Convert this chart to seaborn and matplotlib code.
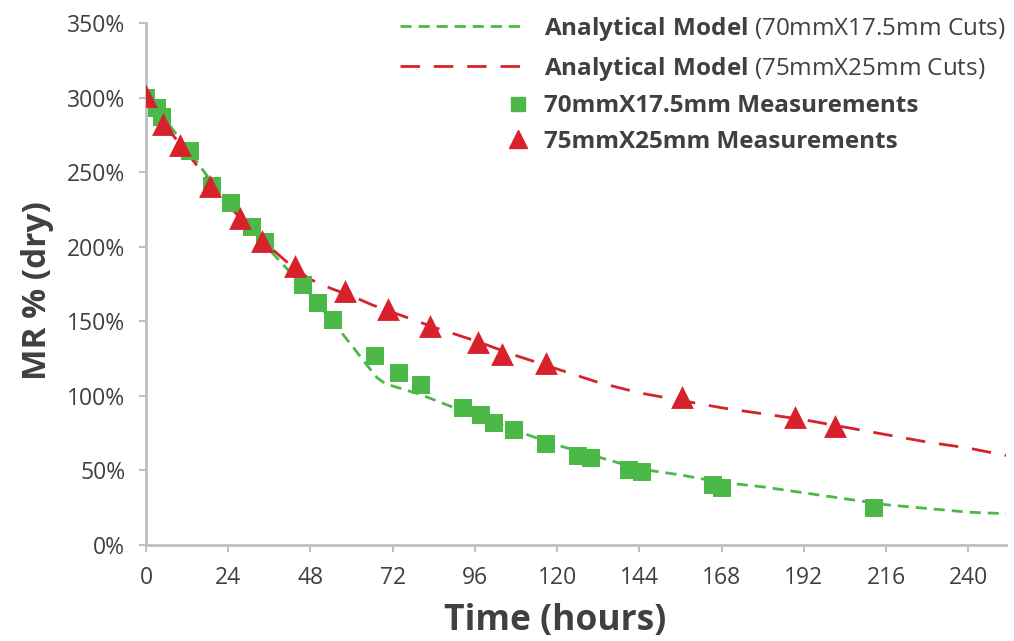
import numpy as np
import pandas as pd
import matplotlib
matplotlib.use("Agg")
import matplotlib.pyplot as plt
import seaborn as sns
from matplotlib.lines import Line2D
from matplotlib.legend_handler import HandlerLine2D
from matplotlib.ticker import FuncFormatter, MultipleLocator

# analytical model curves (hours, MR %)
green_model_t = [0, 6, 12, 18, 24, 30, 36, 42, 48, 54, 60, 64, 67.5, 70, 80, 90, 100,
                 110, 120, 132, 144, 156, 168, 180, 192, 204, 216, 228, 240, 251]
green_model = [300, 284, 266, 247, 231, 214, 198, 183, 168, 151, 134, 122, 112, 108, 101, 92, 84,
               75, 67, 59, 51, 47, 42, 39, 35, 31, 27, 24.5, 22, 21]

red_model_t = [0, 6, 12, 18, 24, 30, 36, 42, 48, 54, 60, 66, 72, 84, 96, 108, 120,
               132, 144, 156, 168, 180, 192, 204, 216, 228, 240, 251]
red_model = [301, 280, 263, 245, 228, 213, 200, 188, 178, 172, 167, 161, 156, 146, 137, 127, 118,
             109, 102, 97, 92, 88, 84, 79, 74, 69, 65, 60]

# measurements
green_meas_t = [0, 3.2, 4.7, 12.8, 19.2, 24.8, 31, 34.7, 45.8, 50.2, 54.6, 66.8, 73.8, 80.2,
                92.5, 97.7, 101.5, 107.3, 116.6, 126, 129.8, 140.9, 144.9, 165.6, 168, 212.6]
green_meas = [300, 293, 287, 264, 241, 229, 213, 203, 174, 162, 151, 127, 115, 107,
              92, 87, 82, 77, 68, 60, 58, 50, 49, 40, 38, 25]

red_meas_t = [0, 5, 10, 18.7, 27.5, 33.8, 43.4, 58, 70.6, 82.8, 96.8, 103.8, 116.6, 156.3, 189.3, 201]
red_meas = [301, 282, 268, 241, 219, 204, 187, 170, 158, 147, 136, 128, 122, 99, 86, 80]

labels = [r"$\mathbf{Analytical\ Model}$ (70mmX17.5mm Cuts)",
          r"$\mathbf{Analytical\ Model}$ (75mmX25mm Cuts)",
          "70mmX17.5mm Measurements",
          "75mmX25mm Measurements"]

GREEN = "#4cb848"
RED = "#d7222c"
TXT = "#404040"
AXC = "#bfbfbf"
G_DASH = (0, (4, 2.5))
R_DASH = (0, (7, 5))

sns.set_theme(style="ticks")
plt.rcParams['font.family'] = ['Open Sans', 'DejaVu Sans']
plt.rcParams['mathtext.fontset'] = 'custom'
plt.rcParams['mathtext.rm'] = 'Open Sans'
plt.rcParams['mathtext.bf'] = 'Open Sans:bold'


class RightMarker(HandlerLine2D):
    # single marker near the right end of the handle box
    def get_xdata(self, legend, xdescent, ydescent, width, height, fontsize):
        m = -xdescent + width - 0.25 * fontsize
        return np.array([m - 1, m + 1]), np.array([m])


fig = plt.figure(figsize=(10.14, 6.41), dpi=100)
ax = fig.add_axes([146 / 1014, 1 - 545 / 641, 860 / 1014, 522 / 641])

gm = pd.DataFrame({"t": green_model_t, "mr": green_model})
rm = pd.DataFrame({"t": red_model_t, "mr": red_model})
gs = pd.DataFrame({"t": green_meas_t, "mr": green_meas})
rs = pd.DataFrame({"t": red_meas_t, "mr": red_meas})

sns.lineplot(data=gm, x="t", y="mr", ax=ax, color=GREEN, lw=2.0, linestyle=G_DASH, sort=False)
sns.lineplot(data=rm, x="t", y="mr", ax=ax, color=RED, lw=2.0, linestyle=R_DASH, sort=False)
sns.scatterplot(data=gs, x="t", y="mr", ax=ax, color=GREEN, marker="s", s=160,
                linewidth=0, zorder=3)
sns.scatterplot(data=rs, x="t", y="mr", ax=ax, color=RED, marker="^", s=270,
                linewidth=0, zorder=4)

ax.set_xlim(0, 251)
ax.set_ylim(0, 350)
ax.xaxis.set_major_locator(MultipleLocator(24))
ax.yaxis.set_major_locator(MultipleLocator(50))
ax.yaxis.set_major_formatter(FuncFormatter(lambda v, p: f"{v:.0f}%"))

sns.despine(ax=ax)
for side in ["left", "bottom"]:
    ax.spines[side].set_color(AXC)
    ax.spines[side].set_linewidth(2)
ax.tick_params(colors=AXC, labelcolor=TXT, labelsize=16.5, length=5, width=1.5, direction="out")
ax.tick_params(axis="x", pad=10)
ax.tick_params(axis="y", pad=10)

ax.set_xlabel("Time (hours)", fontsize=25.5, fontweight="bold", color=TXT, va="center")
ax.set_ylabel("MR % (dry)", fontsize=24, fontweight="bold", color=TXT, va="center")
ax.xaxis.set_label_coords((555 - 146) / 860, (545 - 621) / 522)
ax.yaxis.set_label_coords((38 - 146) / 860, (545 - 291) / 522)

handles = [
    Line2D([], [], color=GREEN, lw=2.0, linestyle=G_DASH),
    Line2D([], [], color=RED, lw=2.0, linestyle=R_DASH),
    Line2D([], [], color=GREEN, marker="s", markersize=10.5, linestyle="none"),
    Line2D([], [], color=RED, marker="^", markersize=13.5, linestyle="none"),
]
leg = fig.legend(handles, labels, loc="upper right", bbox_to_anchor=(1.0, 0.99),
                 frameon=False, fontsize=17.5, handlelength=5.1, handletextpad=0.8,
                 labelspacing=0.48, borderaxespad=0.0, borderpad=0.35,
                 handler_map={handles[2]: RightMarker(), handles[3]: RightMarker()})
for i, t in enumerate(leg.get_texts()):
    t.set_color(TXT)
    if i >= 2:
        t.set_fontweight("bold")

fig.savefig("out.png", dpi=100)
